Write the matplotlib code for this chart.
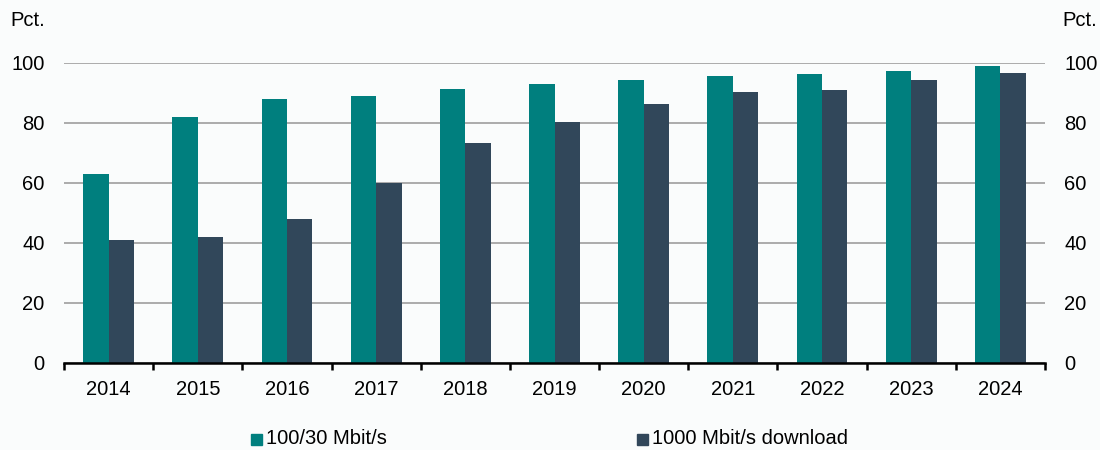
import numpy as np
import matplotlib
matplotlib.use("Agg")
import matplotlib.pyplot as plt
from matplotlib.patches import Rectangle

plt.rcParams['font.family'] = ['Liberation Sans', 'DejaVu Sans']

years = ["2014", "2015", "2016", "2017", "2018", "2019",
         "2020", "2021", "2022", "2023", "2024"]
speed_100_30 = [63, 82, 88, 89, 91.5, 93, 94.5, 95.6, 96.5, 97.5, 98.9]
speed_1000 = [41, 42, 48, 60, 73.5, 80.5, 86.5, 90.3, 91.1, 94.5, 96.8]
series_names = ["100/30 Mbit/s", "1000 Mbit/s download"]

TEAL = "#007F7E"
NAVY = "#31475A"
BG = "#FAFCFC"
FS = 14.5

fig = plt.figure(figsize=(11, 4.5), dpi=100, facecolor=BG)
ax = fig.add_axes([64 / 1100, 1 - 363 / 450, 981 / 1100, 300 / 450])
ax.set_facecolor(BG)

x = np.arange(len(years))
w = 0.285
ax.bar(x - w / 2, speed_100_30, w, color=TEAL, zorder=3)
ax.bar(x + w / 2, speed_1000, w, color=NAVY, zorder=3)

ax.set_xlim(-0.5, len(years) - 0.5)
ax.set_ylim(0, 100)
ax.set_yticks(range(0, 101, 20))
ax.yaxis.grid(True, color="#969696", linewidth=1.1, zorder=0)
ax.set_axisbelow(True)

for s in ["top", "right", "left"]:
    ax.spines[s].set_visible(False)
ax.spines["bottom"].set_linewidth(1.8)
ax.spines["bottom"].set_zorder(4)

# year labels centred, tick marks between categories
ax.set_xticks(x)
ax.set_xticklabels(years, fontsize=FS)
ax.tick_params(axis="x", length=0, pad=12)
ax.set_xticks(np.arange(-0.5, len(years), 1), minor=True)
ax.tick_params(axis="x", which="minor", length=5, width=1.8, direction="out")

# pad is in points: ~19 px gap to the axes edge
ax.tick_params(axis="y", length=0, labelsize=FS, pad=14,
               labelleft=True, labelright=True)

fig.text(10 / 1100, 1 - 21 / 450, "Pct.", fontsize=FS, va="center", ha="left")
fig.text(1097 / 1100, 1 - 21 / 450, "Pct.", fontsize=FS, va="center", ha="right")

# legend at bottom
for xpos, col, name in [(251, TEAL, series_names[0]), (637, NAVY, series_names[1])]:
    fig.patches.append(Rectangle((xpos / 1100, 1 - 445 / 450), 11 / 1100, 11 / 450,
                                 transform=fig.transFigure, color=col))
    fig.text((xpos + 15) / 1100, 1 - 439 / 450, name, fontsize=FS, va="center", ha="left")

fig.savefig("out.png", dpi=100, facecolor=BG)
